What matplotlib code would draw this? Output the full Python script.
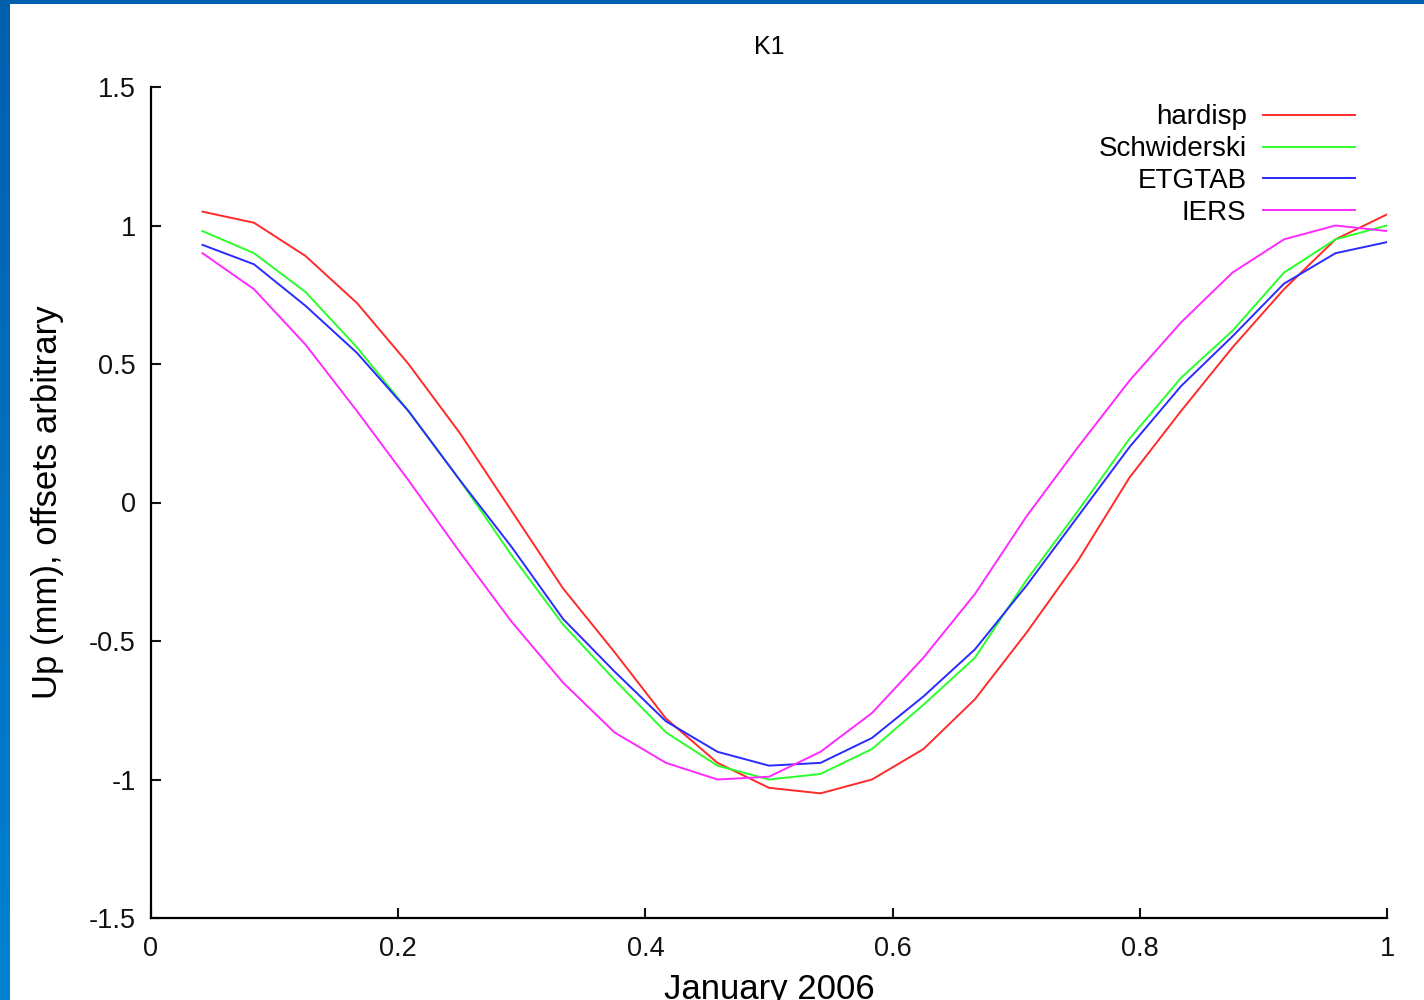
import numpy as np
import matplotlib
matplotlib.use("Agg")
import matplotlib.pyplot as plt

plt.rcParams['font.family'] = ['Liberation Sans', 'DejaVu Sans']

# hourly samples through one day (fraction of day)
hours = np.arange(1, 25) / 24.0

hardisp = [1.05, 1.01, 0.89, 0.72, 0.50, 0.25, -0.03, -0.31, -0.54, -0.78, -0.94, -1.03,
           -1.05, -1.00, -0.89, -0.71, -0.47, -0.21, 0.09, 0.33, 0.56, 0.77, 0.95, 1.04]
schwiderski = [0.98, 0.90, 0.76, 0.56, 0.33, 0.08, -0.19, -0.44, -0.64, -0.83, -0.95, -1.00,
               -0.98, -0.89, -0.73, -0.56, -0.28, -0.03, 0.23, 0.45, 0.62, 0.83, 0.95, 1.00]
etgtab = [0.93, 0.86, 0.71, 0.54, 0.33, 0.08, -0.16, -0.42, -0.61, -0.79, -0.90, -0.95,
          -0.94, -0.85, -0.70, -0.53, -0.30, -0.05, 0.20, 0.42, 0.60, 0.79, 0.90, 0.94]
iers = [0.90, 0.77, 0.57, 0.33, 0.08, -0.18, -0.43, -0.65, -0.83, -0.94, -1.00, -0.99,
        -0.90, -0.76, -0.56, -0.33, -0.05, 0.20, 0.44, 0.65, 0.83, 0.95, 1.00, 0.98]

series = [("hardisp", hardisp, "#ff2a2a"),
          ("Schwiderski", schwiderski, "#2aff2a"),
          ("ETGTAB", etgtab, "#2a2aff"),
          ("IERS", iers, "#ff2aff")]

xticks = [0, 0.2, 0.4, 0.6, 0.8, 1]
xticklabels = ["0", "0.2", "0.4", "0.6", "0.8", "1"]
yticks = [-1.5, -1, -0.5, 0, 0.5, 1, 1.5]
yticklabels = ["-1.5", "-1", "-0.5", "0", "0.5", "1", "1.5"]

fig = plt.figure(figsize=(14.24, 10), dpi=100)
fig.patch.set_facecolor("white")

# slide frame: blue strip on the left (gradient) and along the top
frame_l = fig.add_axes([0, 0, 10 / 1424, 1])
grad = np.linspace(0, 1, 256).reshape(-1, 1)
cmap = matplotlib.colors.LinearSegmentedColormap.from_list("frame", ["#0060ae", "#0082d2"])
frame_l.imshow(grad, aspect="auto", cmap=cmap, origin="upper")
frame_l.axis("off")
frame_t = fig.add_axes([0, 1 - 4 / 1000, 1, 4 / 1000])
frame_t.set_facecolor("#0060ae")
frame_t.set_xticks([])
frame_t.set_yticks([])
for s in frame_t.spines.values():
    s.set_visible(False)

ax = fig.add_axes([151 / 1424, 82 / 1000, 1236 / 1424, 831 / 1000])
for name, vals, col in series:
    ax.plot(hours, vals, color=col, lw=1.4, label=name)

ax.set_xlim(0, 1)
ax.set_ylim(-1.5, 1.5)
ax.set_xticks(xticks)
ax.set_xticklabels(xticklabels)
ax.set_yticks(yticks)
ax.set_yticklabels(yticklabels)
ax.spines["top"].set_visible(False)
ax.spines["right"].set_visible(False)
ax.spines["left"].set_linewidth(1.6)
ax.spines["bottom"].set_linewidth(1.6)
ax.tick_params(direction="in", length=7, width=1.5, labelsize=19.5, colors="#111111")
ax.tick_params(axis="x", pad=13)
ax.tick_params(axis="y", pad=11)

ax.set_title("K1", fontsize=18, pad=24)
ax.set_xlabel("January 2006", fontsize=25, labelpad=8)
ax.set_ylabel("Up (mm), offsets arbitrary", fontsize=25, labelpad=18)

leg = ax.legend(loc="upper right", bbox_to_anchor=(0.974, 0.979), frameon=False,
                fontsize=20, markerfirst=False, handlelength=3.3, handletextpad=0.6,
                labelspacing=0.21, borderpad=0, borderaxespad=0)
for t in leg.get_texts():
    t.set_ha("right")
leg._legend_box.align = "right"

fig.savefig("out.png", dpi=100)
